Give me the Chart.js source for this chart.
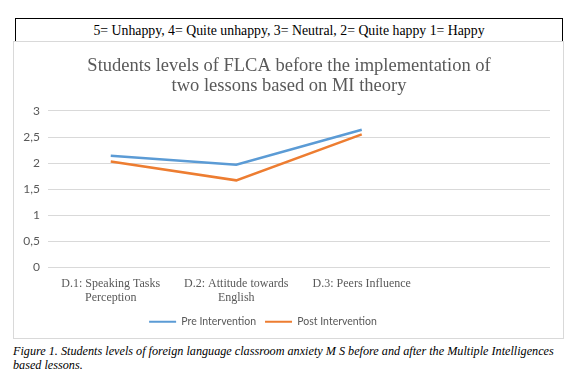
<!DOCTYPE html>
<html>
<head>
<meta charset="utf-8">
<script src="https://cdn.jsdelivr.net/npm/chart.js@4.4.0/dist/chart.umd.min.js"></script>
<style>
  html, body { margin: 0; padding: 0; background: #fff; }
  body { width: 572px; height: 385px; position: relative; overflow: hidden; }
  #scale { position: absolute; left: 15px; top: 18px; width: 548px; height: 23px;
           border: 1px solid #000; border-bottom: none; box-sizing: border-box;
           font: 13.8px "Liberation Serif", "Times New Roman", serif; color: #000;
           text-align: center; line-height: 24px; }
  #box { position: absolute; left: 13px; top: 41px; width: 551px; height: 298px;
         border: 1px solid #d9d9d9; box-sizing: border-box; background: #fff; }
  #cap { position: absolute; left: 13px; top: 344px; width: 565px;
         font: italic 12.2px "Liberation Serif", "Times New Roman", serif; color: #000; line-height: 14px; white-space: nowrap; }
</style>
</head>
<body>
<div id="scale">5= Unhappy, 4= Quite unhappy, 3= Neutral, 2= Quite happy 1= Happy</div>
<div id="box"><canvas id="c" width="549" height="296"></canvas></div>
<div id="cap">Figure 1. Students levels of foreign language classroom anxiety M S before and after the Multiple Intelligences<br>based lessons.</div>
<script>
const categories = [['D.1: Speaking Tasks', 'Perception'], ['D.2: Attitude towards', 'English'], 'D.3: Peers Influence', ''];
const preIntervention = [2.14, 1.97, 2.64, null];
const postIntervention = [2.03, 1.67, 2.55, null];
const yTickValues = [0, 0.5, 1, 1.5, 2, 2.5, 3];
const yTickLabels = ['0', '0,5', '1', '1,5', '2', '2,5', '3'];
const seriesNames = ['Pre Intervention', 'Post Intervention'];
const titleLines = ['Students levels of FLCA before the implementation of', 'two lessons based on MI theory'];

const gray = '#595959';
const grid = '#d9d9d9';

const blockShift = {
  id: 'blockShift',
  afterLayout(chart) {
    const lg = chart.legend;
    if (lg) { lg.left -= 19; lg.right -= 19; }
    const tb = chart.titleBlock;
    if (tb) { tb.left += 7; tb.right += 7; }
  }
};

new Chart(document.getElementById('c'), {
  type: 'line',
  data: {
    labels: categories,
    datasets: [
      { label: seriesNames[0], data: preIntervention, borderColor: '#5b9bd5', backgroundColor: '#5b9bd5',
        borderWidth: 2.5, pointRadius: 0, tension: 0 },
      { label: seriesNames[1], data: postIntervention, borderColor: '#ed7d31', backgroundColor: '#ed7d31',
        borderWidth: 2.5, pointRadius: 0, tension: 0 }
    ]
  },
  plugins: [blockShift],
  options: {
    responsive: false,
    animation: false,
    layout: { padding: { left: 0, right: 13, top: 0, bottom: 1 } },
    plugins: {
      title: { display: true, text: titleLines, color: gray,
        font: { family: '"Liberation Serif", "Times New Roman", serif', size: 18.5, weight: 'normal', lineHeight: 1.08 },
        padding: { top: 14, bottom: 15 } },
      legend: { position: 'bottom',
        labels: { color: gray, boxWidth: 27, boxHeight: 2, padding: 9,
          font: { family: 'Lato, "Liberation Sans", sans-serif', size: 10.5 },
          generateLabels(chart) {
            const items = Chart.defaults.plugins.legend.labels.generateLabels(chart);
            items.forEach(i => { i.lineWidth = 0; });
            return items;
          } } },
      tooltip: { enabled: false }
    },
    scales: {
      x: {
        offset: true,
        grid: { display: false, drawTicks: false },
        border: { display: false },
        ticks: { color: gray, padding: 9, maxRotation: 0, autoSkip: false,
          font: { family: '"Liberation Serif", "Times New Roman", serif', size: 12, lineHeight: 1.17 } },
        afterFit(s) { s.height = 40; }
      },
      y: {
        min: 0, max: 3,
        afterBuildTicks(s) { s.ticks = yTickValues.map(v => ({ value: v })); },
        grid: { color: grid, drawTicks: false, lineWidth: 1 },
        border: { display: false },
        ticks: { color: gray, padding: 8,
          font: { family: 'Lato, "Liberation Sans", sans-serif', size: 12 },
          callback(v, i) { return yTickLabels[i]; } },
        afterFit(s) { s.width = 34; }
      }
    }
  }
});
</script>
</body>
</html>
